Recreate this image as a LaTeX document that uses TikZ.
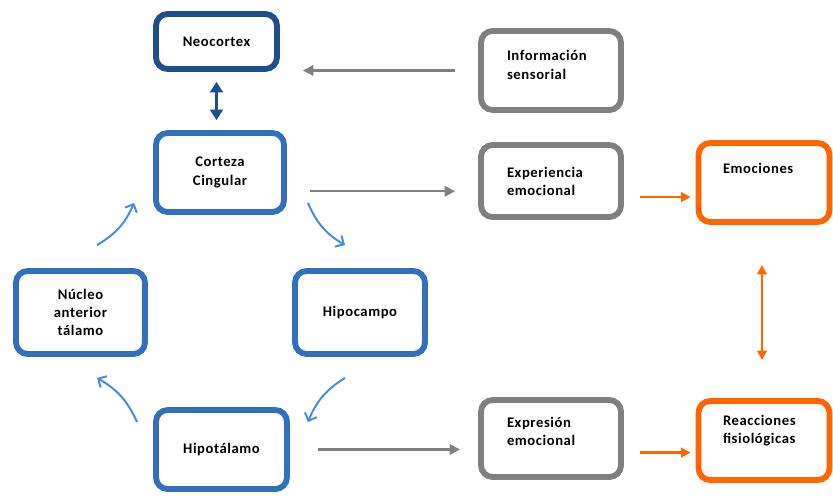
\documentclass[tikz,border=0pt]{standalone}
\usepackage{fontspec}
\setmainfont{Carlito}[LetterSpace=4]
\usetikzlibrary{positioning,arrows.meta}
\definecolor{neoblue}{RGB}{31,78,140}
\definecolor{boxblue}{RGB}{50,112,190}
\definecolor{curveblue}{RGB}{70,140,225}
\definecolor{boxgray}{RGB}{128,128,128}
\definecolor{boxorange}{RGB}{255,102,0}
\tikzset{font=\bfseries\fontsize{12.5}{15.5}\selectfont}
\tikzset{
	box/.style={draw, line width=5pt, rounded corners=10pt, fill=white, inner sep=2pt},
	bluebox/.style={box, draw=boxblue, align=center},
	graybox/.style={box, draw=boxgray, text width=2.64cm, align=left},
	orangebox/.style={box, draw=boxorange, text width=2.46cm, align=left},
	turn arrow/.style={draw=curveblue, line width=1.7pt, -{Straight Barb[length=5.5pt,width=11pt]}},
	gray arrow/.style={draw=boxgray, line width=2pt, -{Triangle[length=9pt,width=9pt]}},
	orange arrow/.style={draw=boxorange, line width=2pt, -{Triangle[length=8pt,width=8pt]}},
}

\begin{document}
\begin{tikzpicture}[x=0.03cm, y=-0.03cm]
	\useasboundingbox (0,0) rectangle (833,495);

	% limbic circuit
	\node[bluebox, draw=neoblue, minimum width=3.63cm, minimum height=1.65cm] (neo) at (216.5, 41.5) {Neocortex};
	\node[bluebox, minimum width=3.84cm, minimum height=2.37cm] (cort) at (220, 172.5) {Corteza\\Cingular};
	\node[bluebox, minimum width=3.9cm, minimum height=2.49cm] (hipo) at (360, 312.5) {Hipocampo};
	\node[bluebox, minimum width=3.87cm, minimum height=2.49cm] (nuc) at (80.5, 312.5) {Núcleo\\anterior\\tálamo};
	\node[bluebox, minimum width=3.93cm, minimum height=2.37cm] (hipot) at (221.5, 449.5) {Hipotálamo};

	% right column
	\node[graybox, minimum width=4.2cm, minimum height=2.37cm, text depth=25pt] (info) at (551, 70.5) {Información\\sensorial};
	\node[graybox, minimum width=4.2cm, minimum height=2.16cm] (exp) at (551, 181) {Experiencia\\emocional};
	\node[graybox, minimum width=4.2cm, minimum height=2.31cm, text depth=27pt] (expr) at (551, 438.5) {Expresión\\emocional};
	\node[orangebox, minimum width=3.93cm, minimum height=2.37cm, text depth=24pt] (emo) at (764, 182.5) {Emociones};
	\node[orangebox, minimum width=3.93cm, minimum height=2.37cm, text depth=34pt] (reac) at (764, 440.5) {Reacciones\\fisiológicas};

	\draw[draw=neoblue, line width=2.5pt, {Triangle[length=9pt,width=11pt]}-{Triangle[length=9pt,width=11pt]}, shorten <=0.3cm, shorten >=0.3cm] (neo.south) -- (neo.south |- cort.north);

	\draw[turn arrow] ([shift={(21,-12)}]cort.south east) to[bend right=18] ([shift={(-15,-23)}]hipo.north);
	\draw[turn arrow] ([shift={(-15,21)}]hipo.south) to[bend right=18] ([shift={(18,15)}]hipot.north east);
	\draw[turn arrow] ([shift={(-16,15)}]hipot.north west) to[bend right=18] ([shift={(16.5,21)}]nuc.south);
	\draw[turn arrow] ([shift={(16.5,-23)}]nuc.north) to[bend right=18] ([shift={(-19,-12)}]cort.south west);

	\draw[gray arrow, shorten <=0.69cm, shorten >=0.69cm] (info.west) -- (info.west -| neo.east);
	\draw[gray arrow, shorten <=0.69cm, shorten >=0.69cm] (exp.188 -| cort.east) -- (exp.188);
	\draw[gray arrow, shorten <=0.84cm, shorten >=0.54cm] (hipot.east) -- (hipot.east -| expr.west);

	\draw[orange arrow, shorten <=0.48cm, shorten >=0.15cm] (emo.192 -| exp.east) -- (emo.192);
	\draw[orange arrow, shorten <=0.48cm, shorten >=0.15cm] (reac.190 -| expr.east) -- (reac.190);
	\draw[draw=boxorange, line width=2pt, {Triangle[length=8pt,width=8pt]}-{Triangle[length=8pt,width=8pt]}, shorten <=1.2cm, shorten >=1.14cm] (emo.south -| 762,0) -- (reac.north -| 762,0);
\end{tikzpicture}
\end{document}
